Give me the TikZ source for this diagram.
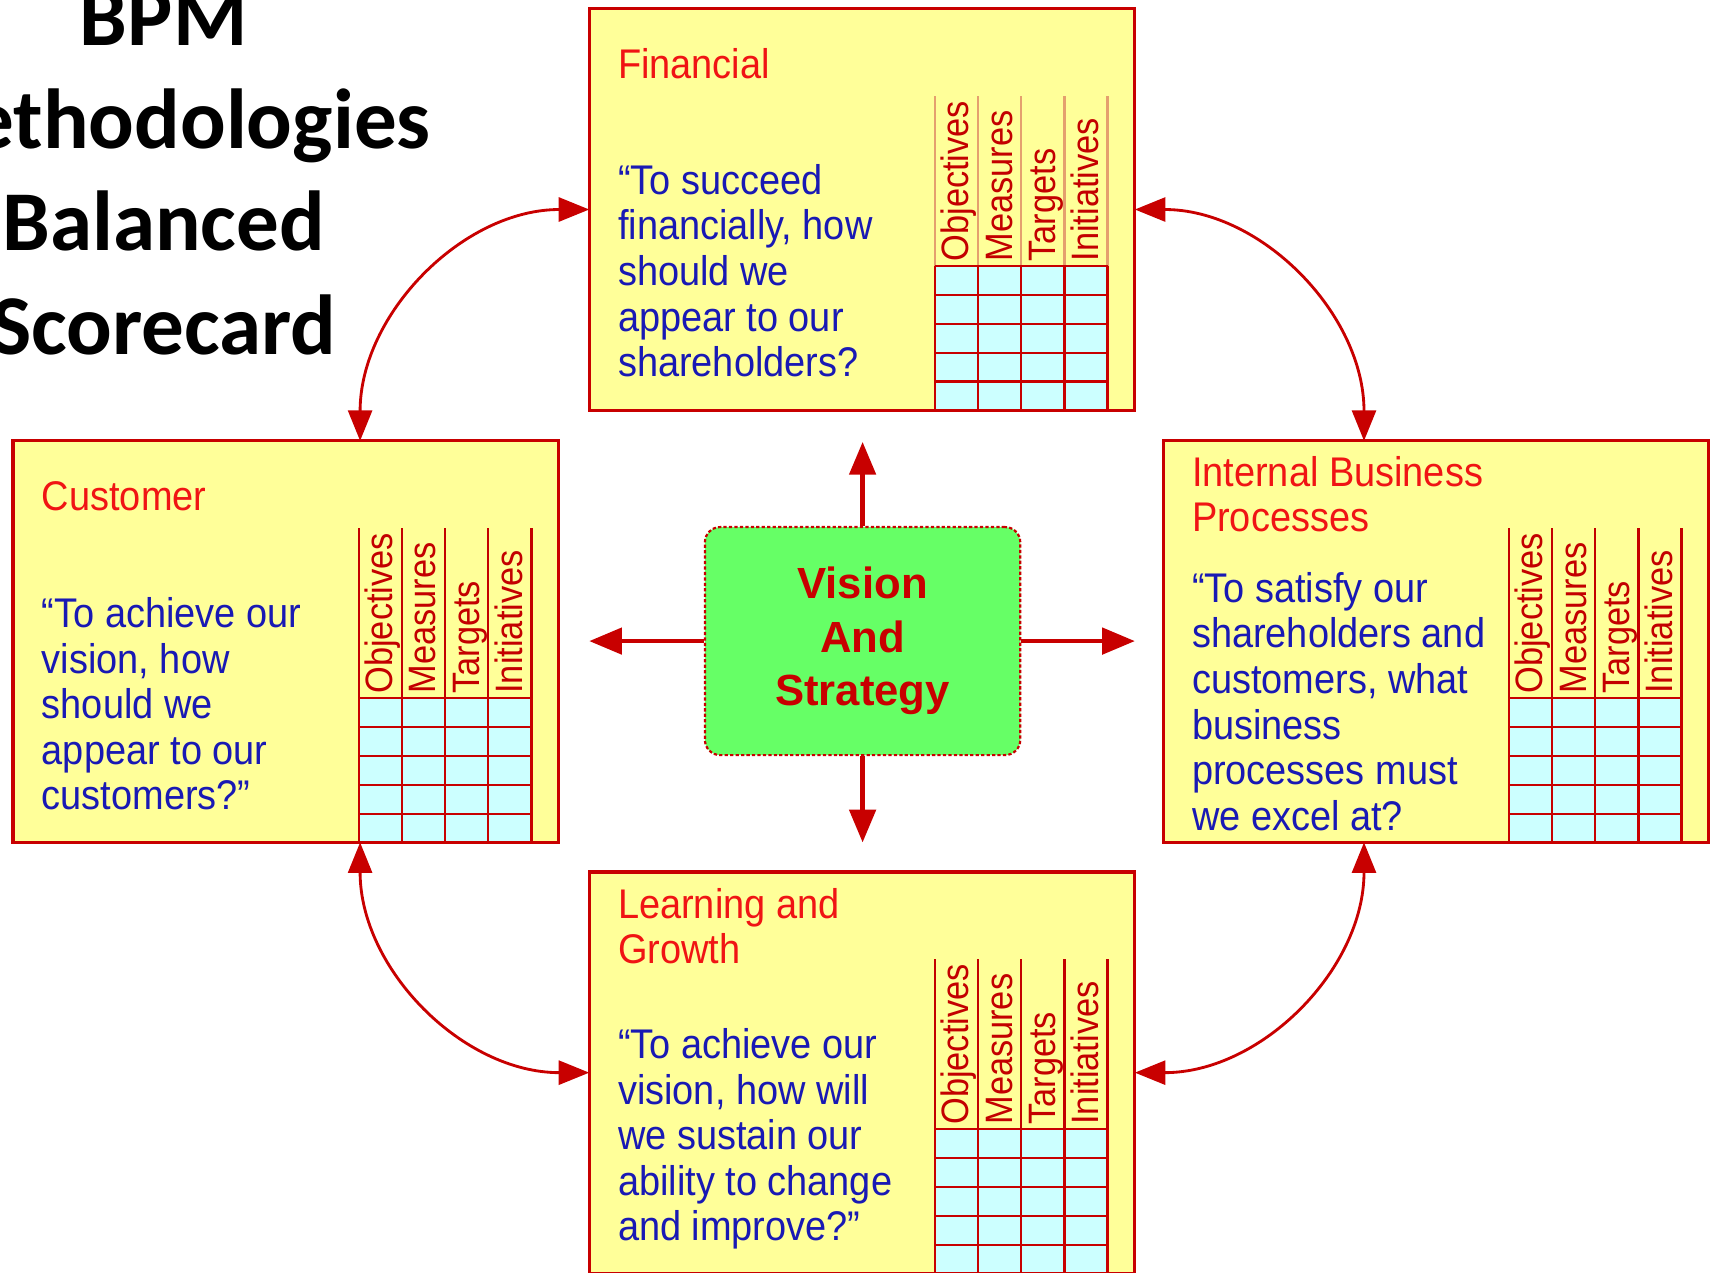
\documentclass[tikz,border=0pt]{standalone}
\usepackage{fontspec}
\usetikzlibrary{arrows.meta,calc}
\newfontfamily\boxfont{Liberation Sans}[FakeStretch=0.915]
\newfontfamily\hdrfont{Liberation Sans}[FakeStretch=0.9]
\newfontfamily\visfont{Liberation Sans}
\newfontfamily\ttlfont{Carlito}
\definecolor{boxfill}{RGB}{255,255,153}
\definecolor{boxline}{RGB}{200,0,0}
\definecolor{ttlred}{RGB}{240,20,20}
\definecolor{qblue}{RGB}{25,25,180}
\definecolor{hdrred}{RGB}{195,0,0}
\definecolor{hdrtan}{RGB}{228,160,110}
\definecolor{gridfill}{RGB}{204,255,255}
\definecolor{visfill}{RGB}{102,255,102}
\definecolor{arrred}{RGB}{200,0,0}
\tikzset{
  bscframe/.style={draw=boxline, line width=1.5pt, fill=boxfill, minimum width=250pt, minimum height=184pt, anchor=north west, inner sep=0pt, outer sep=0pt},
  frameline/.style={draw=boxline, line width=1.5pt},
  gridline/.style={draw=boxline, line width=1pt},
  hdrtext/.style={rotate=90, anchor=base west, inner sep=0pt, text=hdrred, font=\hdrfont\fontsize{17.5}{17.5}\selectfont},
  titletext/.style={anchor=base west, inner sep=0pt, text=ttlred, font=\boxfont\fontsize{19}{21}\selectfont},
  quotetext/.style={anchor=base west, inner sep=0pt, text=qblue, font=\boxfont\fontsize{19}{21}\selectfont},
  bigtitle/.style={anchor=base, inner sep=0pt, font=\ttlfont\bfseries\fontsize{39}{47}\selectfont},
  visbox/.style={draw=boxline, line width=1pt, dash pattern=on 1.5pt off 1pt, fill=visfill, rounded corners=7pt, minimum width=144.5pt, minimum height=104.5pt, align=center, text=arrred, font=\visfont\bfseries\fontsize{20}{24.5}\selectfont, inner sep=0pt},
  sarr/.style={draw=arrred, line width=2pt, -{Triangle[length=15pt,width=12pt]}},
  carr/.style={draw=arrred, line width=1.3pt, {Triangle[length=14pt,width=11pt]}-{Triangle[length=14pt,width=11pt]}}
}
% #1 name, #2 x, #3 y, #4 title lines, #5 title first baseline, #6 quote lines, #7 quote first baseline, #8 header line colour
\newcommand\bscbox[8]{%
  \node[bscframe] (#1) at (#2,#3) {};
  \begin{scope}[shift={(#2,#3)}]
    \fill[gridfill] (317,236) rectangle (475,368);
    \foreach \c in {317,356.5,396,435.5,475} {
      \draw[draw=#8, line width=1pt] (\c,80) -- (\c,236);
      \draw[gridline] (\c,236) -- (\c,368);
    }
    \foreach \r in {236,262.4,288.8,315.2,341.6} \draw[gridline] (317,\r) -- (475,\r);
    \foreach \h [count=\i] in {Objectives,Measures,Targets,Initiatives}
      \node[hdrtext] (#1-h\i) at ({317+39.5*(\i-1)+31},232) {\h};
    \foreach \t [count=\i] in {#4}
      \node[titletext] (#1-t\i) at (26,{#5+41*(\i-1)}) {\t};
    \foreach \t [count=\i] in {#6}
      \node[quotetext] (#1-q\i) at (26,{#7+41.8*(\i-1)}) {\t};
  \end{scope}
  \draw[frameline] (#1.south west) rectangle (#1.north east);
}
\begin{document}
\begin{tikzpicture}[x=0.5pt,y=-0.5pt]
\useasboundingbox (0,0) rectangle (1568,1166.6);
% title
\node[bigtitle] (ttl1) at (150,42) {BPM};
\node[bigtitle] (ttl2) at (150,136) {Methodologies};
\node[bigtitle] (ttl3) at (150,230) {Balanced};
\node[bigtitle] (ttl4) at (150,325) {Scorecard};
% boxes
\bscbox{fin}{540}{8}{Financial}{64}{{“To succeed},{financially, how},{should we},{appear to our},{shareholders?}}{170}{hdrtan}
\bscbox{cus}{12}{404}{Customer}{64}{{“To achieve our},{vision, how},{should we},{appear to our},{customers?”}}{171}{hdrred}
\bscbox{int}{1066}{404}{{Internal Business},{Processes}}{42}{{“To satisfy our},{shareholders and},{customers, what},{business},{processes must},{we excel at?}}{148}{hdrred}
\bscbox{lrn}{540}{799}{{Learning and},{Growth}}{43}{{“To achieve our},{vision, how will},{we sustain our},{ability to change},{and improve?”}}{171}{hdrred}
% vision
\node[visbox] (vis) at (790.5,587.5) {Vision\\And\\Strategy};
\coordinate (vup) at (790.5,405);
\coordinate (vdn) at (790.5,772);
\coordinate (vlf) at (540,587.5);
\coordinate (vrt) at (1040,587.5);
\draw[sarr] (vis.north) -- (vup);
\draw[sarr] (vis.south) -- (vdn);
\draw[sarr] (vis.west) -- (vlf);
\draw[sarr] (vis.east) -- (vrt);
% curved connectors
\coordinate (cusN) at ($(cus.north west)+(318,0)$);
\coordinate (cusS) at ($(cus.south west)+(318,0)$);
\coordinate (intN) at ($(int.north west)+(184,0)$);
\coordinate (intS) at ($(int.south west)+(184,0)$);
\draw[carr] (cusN) .. controls +(0,-116) and +(-116,0) .. (fin.west);
\draw[carr] (fin.east) .. controls +(116,0) and +(0,-116) .. (intN);
\draw[carr] (cusS) .. controls +(0,116) and +(-116,0) .. (lrn.west);
\draw[carr] (intS) .. controls +(0,116) and +(116,0) .. (lrn.east);
\end{tikzpicture}
\end{document}
